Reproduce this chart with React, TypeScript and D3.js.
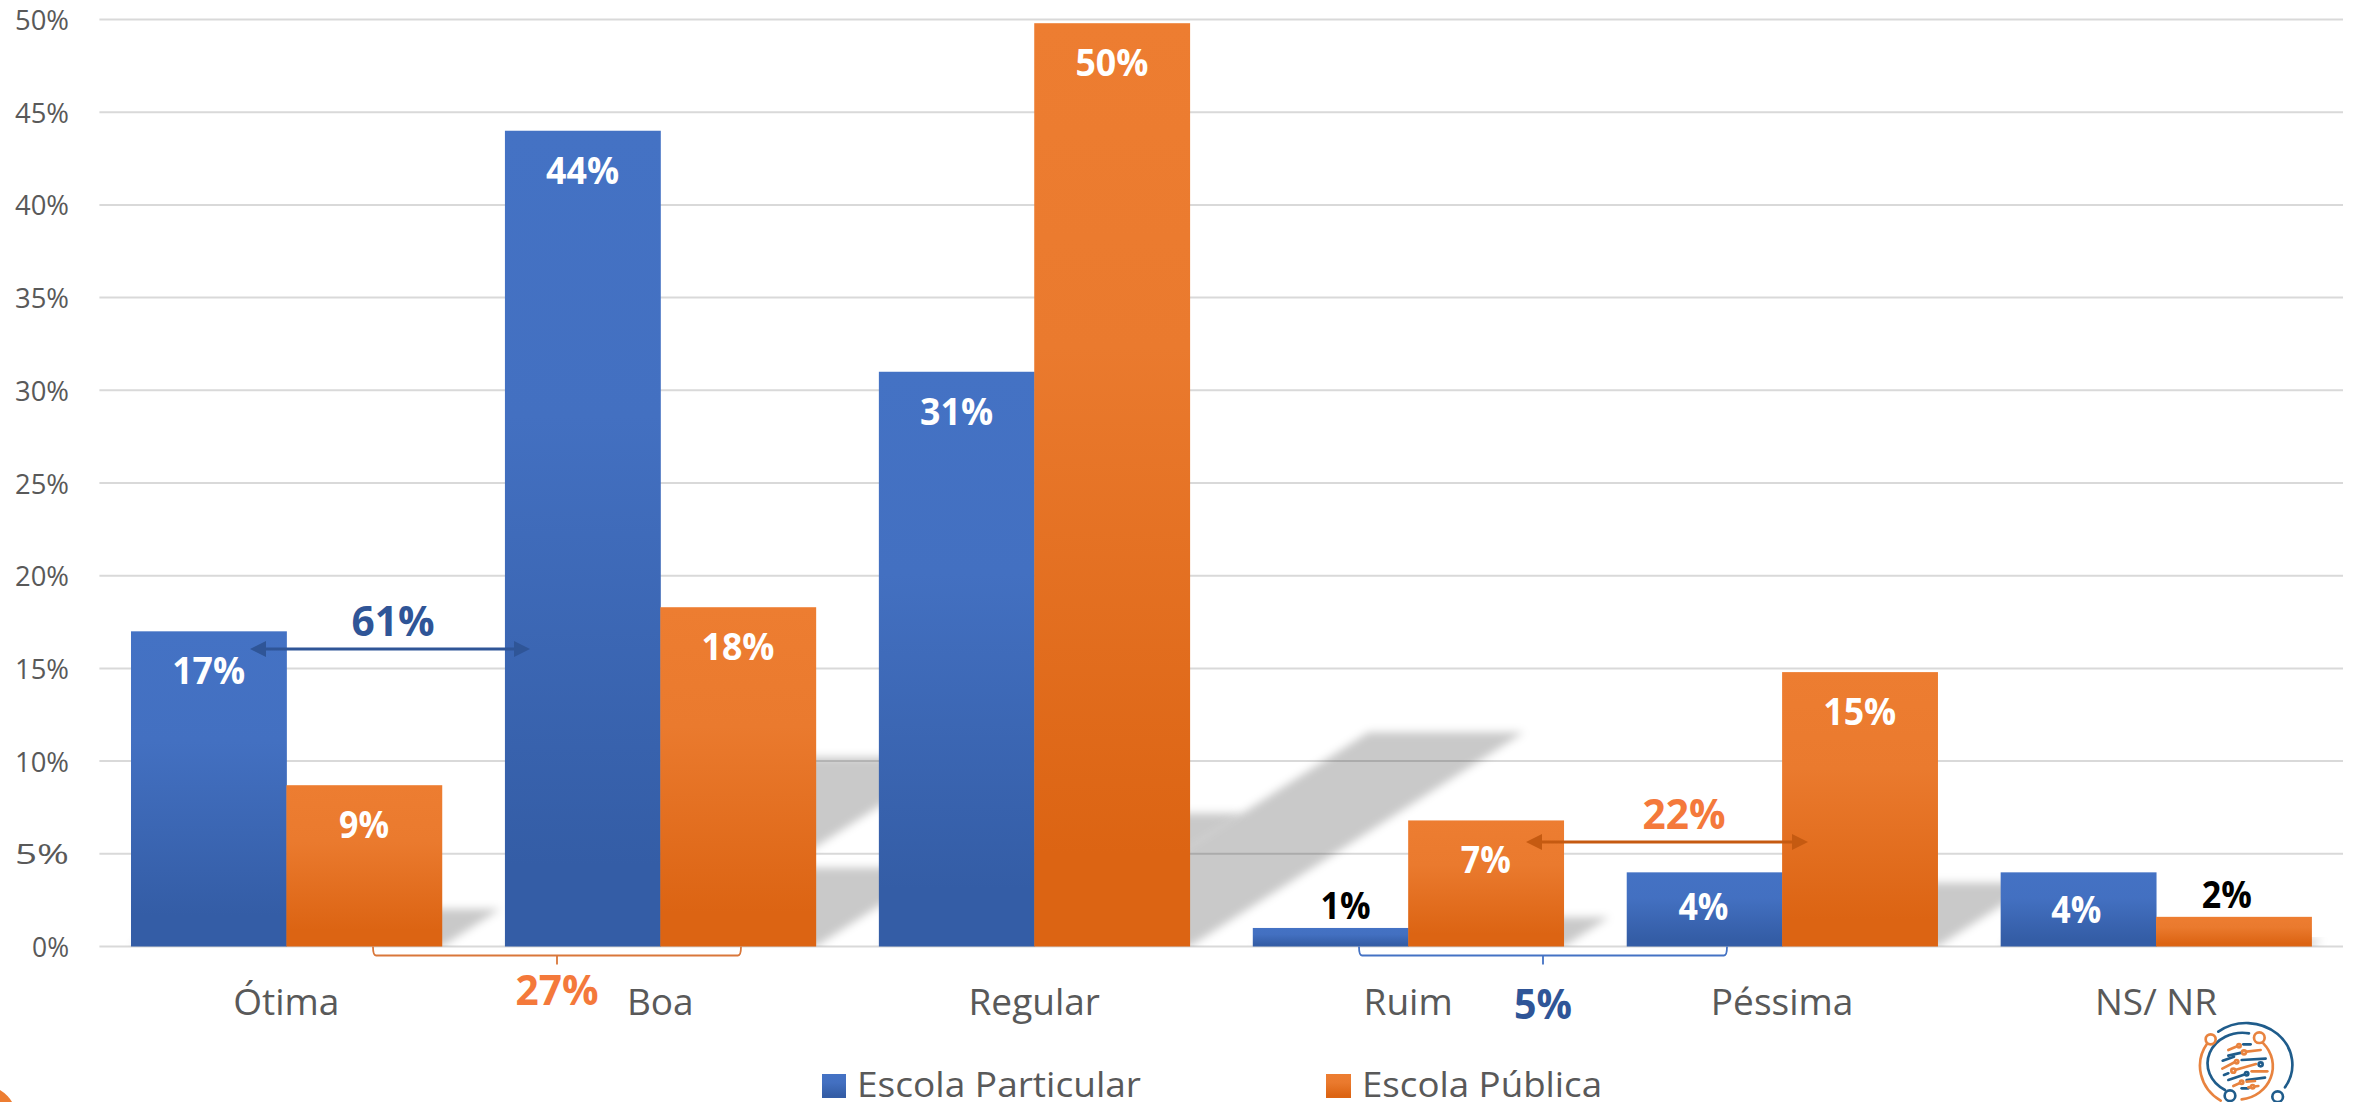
import React from "react";
import * as d3 from "d3";

const categories = ["Ótima", "Boa", "Regular", "Ruim", "Péssima", "NS/ NR"];
const particular = [17, 44, 31, 1, 4, 4];
const publica = [8.7, 18.3, 49.8, 6.8, 14.8, 1.6];
const tickValues = [0, 5, 10, 15, 20, 25, 30, 35, 40, 45, 50];
const seriesNames = ["Escola Particular", "Escola Pública"];

const FONT = "'Open Sans', 'Noto Sans', sans-serif";
const W = 2354;
const H = 1102;
const y = d3.scaleLinear().domain([0, 50]).range([946.5, 19.5]);
const x = d3.scaleBand<string>().domain(categories).range([99.4, 2343]).paddingInner(0.169).paddingOuter(0.0845);
const sub = d3.scaleBand<string>().domain(seriesNames).range([0, x.bandwidth()]);

type Bar = { key: string; cat: string; series: string; v: number; x: number; w: number; top: number; h: number };
const seriesValues = [particular, publica];
const bars: Bar[] = seriesNames.flatMap((s, si) =>
  categories.map((c, i) => {
    const v = seriesValues[si][i];
    return { key: s + c, cat: c, series: s, v, x: (x(c) as number) + (sub(s) as number), w: sub.bandwidth(), top: y(v), h: y(0) - y(v) };
  })
);

const line = d3.line();
const shadowPath = (b: Bar) => {
  const sh = b.h * 0.232;
  const shift = b.h * 0.362;
  const base = y(0);
  return (line([[b.x, base], [b.x + b.w, base], [b.x + b.w + shift, base - sh], [b.x + shift, base - sh]]) as string) + "Z";
};

// small placement corrections for individual data labels, by "series|category"
const labelNudge: Record<string, [number, number]> = {
  "Escola Particular|Péssima": [-1, -5],
  "Escola Particular|NS/ NR": [-2, -2],
  "Escola Particular|Ruim": [15, 0],
  "Escola Pública|NS/ NR": [-7, 0],
};

const Arrow = ({ x1, x2, yy, color }: { x1: number; x2: number; yy: number; color: string }) => (
  <g>
    <line x1={x1 + 10} x2={x2 - 10} y1={yy} y2={yy} stroke={color} strokeWidth={3} />
    <path d={`M${x1},${yy}L${x1 + 16},${yy - 8}V${yy + 8}Z`} fill={color} />
    <path d={`M${x2},${yy}L${x2 - 16},${yy - 8}V${yy + 8}Z`} fill={color} />
  </g>
);

const Bracket = ({ x1, x2, color }: { x1: number; x2: number; color: string }) => {
  const base = y(0);
  const mid = (x1 + x2) / 2;
  return (
    <path
      d={`M${x1},${base}Q${x1},${base + 9} ${x1 + 3},${base + 9}H${x2 - 3}Q${x2},${base + 9} ${x2},${base}M${mid},${base + 9}V${base + 18}`}
      fill="none"
      stroke={color}
      strokeWidth={1.8}
    />
  );
};

const logoBlue = "#1F5C8B";
const logoOrange = "#E8833F";
const logoBlueStrokes = [
  "M355,95A138,125 0 0 1 555,262",
  "M447,100A105,92 0 0 0 375,270",
  "M430,133H452",
  "M385,167L425,158",
  "M368,182L402,170",
  "M425,180L497,176",
  "M372,225L385,220",
  "M385,240L438,222",
  "M440,240L495,233",
  "M425,265H445",
];
const logoOrangeStrokes = [
  "M322,130A138,125 0 0 0 362,302",
  "M490,130A105,100 0 0 1 425,298",
  "M385,150L415,137",
  "M440,155L482,150",
  "M367,206L405,186",
  "M405,210L468,192",
  "M455,214H502",
  "M400,258L425,247",
  "M440,245L465,243",
  "M445,262L475,258",
];
const logoOrangeNodes = [[332, 118, 15], [478, 113, 16], [417, 137, 5], [432, 157, 6], [410, 185, 5], [400, 212, 6], [425, 247, 5], [458, 260, 5]];
const logoBlueNodes = [[390, 287, 16], [533, 290, 16], [482, 193, 6], [440, 221, 5]];

export default function App() {
  return (
    <svg width={W} height={H} viewBox={`0 0 ${W} ${H}`} style={{ position: "absolute", left: 0, top: 0, display: "block", background: "#fff" }}>
      <defs>
        <linearGradient id="gradBlue" x1="0" y1="0" x2="0" y2="1">
          <stop offset="0" stopColor="#4472C4" />
          <stop offset="0.35" stopColor="#4370C1" />
          <stop offset="0.9" stopColor="#345DA6" />
          <stop offset="1" stopColor="#345DA6" />
        </linearGradient>
        <linearGradient id="gradOrange" x1="0" y1="0" x2="0" y2="1">
          <stop offset="0" stopColor="#ED7D31" />
          <stop offset="0.35" stopColor="#EA7A2E" />
          <stop offset="0.9" stopColor="#DC6413" />
          <stop offset="1" stopColor="#DC6413" />
        </linearGradient>
        <filter id="soft" x="-20%" y="-30%" width="140%" height="160%">
          <feGaussianBlur stdDeviation="4" />
        </filter>
        <clipPath id="aboveAxis">
          <rect x={0} y={0} width={W} height={y(0)} />
        </clipPath>
      </defs>

      {tickValues.map((t) => (
        <g key={t}>
          <line x1={x.range()[0]} x2={x.range()[1]} y1={y(t)} y2={y(t)} stroke="#D9D9D9" strokeWidth={2} />
          <text x={69} y={y(t) + 10.5} textAnchor="end" fontFamily={FONT} fontSize={28} fill="#595959" textLength={t === 0 ? 37 : 54} lengthAdjust="spacingAndGlyphs">
            {t}%
          </text>
        </g>
      ))}

      <g clipPath="url(#aboveAxis)">
        {bars.map((b) => (
          <path key={b.key} d={shadowPath(b)} fill="#000" fillOpacity={0.21} filter="url(#soft)" />
        ))}
      </g>

      {bars.map((b) => (
        <rect key={b.key} x={b.x} y={b.top} width={b.w + 0.5} height={b.h} fill={b.series === seriesNames[0] ? "url(#gradBlue)" : "url(#gradOrange)"} />
      ))}

      {bars.map((b) => {
        const outside = b.v < 3;
        const [nx, ny] = labelNudge[b.series + "|" + b.cat] ?? [0, 0];
        return (
          <text
            key={b.key}
            x={b.x + b.w / 2 + nx}
            y={(outside ? b.top - 9 : b.top + 53) + ny}
            textAnchor="middle"
            fontFamily={FONT}
            fontWeight={700}
            fontSize={38}
            fill={outside ? "#000" : "#fff"}
            textLength={Math.round(b.v) < 10 ? 50 : 73}
            lengthAdjust="spacingAndGlyphs"
          >
            {Math.round(b.v)}%
          </text>
        );
      })}

      {categories.map((c) => (
        <text key={c} x={(x(c) as number) + x.bandwidth() / 2} y={1015} textAnchor="middle" fontFamily={FONT} fontSize={37} fill="#595959">
          {c}
        </text>
      ))}

      <Arrow x1={250} x2={530} yy={649} color="#2F5597" />
      <text x={393} y={636} textAnchor="middle" fontFamily={FONT} fontWeight={700} fontSize={42} fill="#2F5597" textLength={83} lengthAdjust="spacingAndGlyphs">61%</text>
      <Arrow x1={1526} x2={1808} yy={842} color="#C55A11" />
      <text x={1684} y={829} textAnchor="middle" fontFamily={FONT} fontWeight={700} fontSize={42} fill="#F4793B" textLength={83} lengthAdjust="spacingAndGlyphs">22%</text>
      <Bracket x1={373} x2={741} color="#D9773A" />
      <text x={557} y={1005} textAnchor="middle" fontFamily={FONT} fontWeight={700} fontSize={42} fill="#F4793B" textLength={83} lengthAdjust="spacingAndGlyphs">27%</text>
      <Bracket x1={1359} x2={1727} color="#4472C4" />
      <text x={1543} y={1019} textAnchor="middle" fontFamily={FONT} fontWeight={700} fontSize={42} fill="#2F5597" textLength={58} lengthAdjust="spacingAndGlyphs">5%</text>

      <rect x={822} y={1074} width={24} height={24} fill="url(#gradBlue)" />
      <text x={857} y={1097} fontFamily={FONT} fontSize={35} fill="#595959" textLength={284} lengthAdjust="spacingAndGlyphs">{seriesNames[0]}</text>
      <rect x={1326} y={1074} width={25} height={24} fill="url(#gradOrange)" />
      <text x={1362} y={1097} fontFamily={FONT} fontSize={35} fill="#595959" textLength={240} lengthAdjust="spacingAndGlyphs">{seriesNames[1]}</text>

      <path d="M0,1090Q8,1095 12,1102H0Z" fill="#ED7D31" />

      <g transform="translate(2100,1000) scale(0.3333)" fill="none" strokeLinecap="round">
        {logoBlueStrokes.map((d) => <path key={d} d={d} stroke={logoBlue} strokeWidth={8} />)}
        {logoOrangeStrokes.map((d) => <path key={d} d={d} stroke={logoOrange} strokeWidth={8} />)}
        {logoOrangeNodes.map(([cx, cy, r]) => <circle key={`${cx}-${cy}`} cx={cx} cy={cy} r={r} stroke={logoOrange} strokeWidth={8} fill="#fff" />)}
        {logoBlueNodes.map(([cx, cy, r]) => <circle key={`${cx}-${cy}`} cx={cx} cy={cy} r={r} stroke={logoBlue} strokeWidth={8} fill="#fff" />)}
      </g>
    </svg>
  );
}
